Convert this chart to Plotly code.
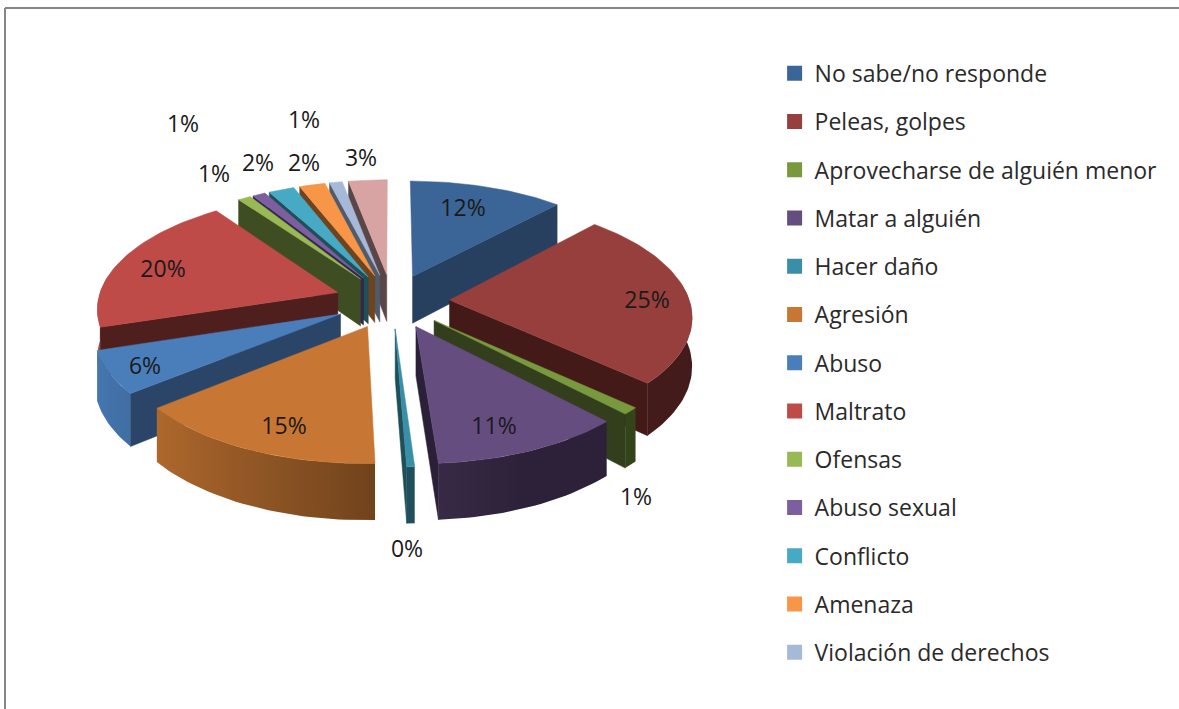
import math
import plotly.graph_objects as go

CATEGORIES = ["No sabe/no responde", "Peleas, golpes", "Aprovecharse de alguién menor",
              "Matar a alguién", "Hacer daño", "Agresión", "Abuso", "Maltrato", "Ofensas",
              "Abuso sexual", "Conflicto", "Amenaza", "Violación de derechos", "Otros"]
VALUES = [12, 25, 1, 11.15, 0.45, 14.85, 6, 20, 1, 1, 2, 2, 1, 3]
TOP_COLORS = ["#3A6596", "#973F3D", "#78993D", "#664D80", "#3A8FA8", "#C77733", "#4A7EBB",
              "#BE4B48", "#98B954", "#7D5FA0", "#46AAC5", "#F79646", "#A7B9D8", "#D8A3A3"]
WALL_COLORS = ["#274060", "#431A17", "#333F1C", "#2B2039", "#1F4F59", "#6E411D", "#2A4568",
               "#4F1F1D", "#3F4D22", "#33264A", "#1F4F59", "#6E431E", "#4F5B6A", "#5A4646"]
LEGEND_COUNT = 13
# label anchors: the reference's data labels were moved by hand around the pie
LABEL_ANCHORS = [(463, 210), (647, 302), (636, 499), (494, 428), (407, 551), (284, 428), (145, 368),
                 (163, 271), (214, 176), (183, 126), (258, 165), (304, 165), (304, 122), (361, 160)]

CX, CY, RX, RY, H, K, EXPLODE = 392, 301, 240, 113, 48, 0.125, 0.24
FONT = "Open Sans"


def project(x, y, z=0):
    s = 1 / (1 + K * y)
    return CX + RX * x * s, CY - RY * y * s + H * z * s


def rgb(hexcol, f):
    return "rgb(%d,%d,%d)" % tuple(min(255, int(int(hexcol[i:i + 2], 16) * f)) for i in (1, 3, 5))


def poly(fig, pts, color, gradient=None):
    kw = dict(fillgradient=gradient) if gradient else dict(fillcolor=color)
    fig.add_trace(go.Scatter(x=[p[0] for p in pts] + [pts[0][0]], y=[p[1] for p in pts] + [pts[0][1]],
                             mode="lines", fill="toself",
                             line=dict(color=color or "rgba(0,0,0,0)", width=0.5 if color else 0),
                             hoverinfo="skip", showlegend=False, **kw))


total = sum(VALUES)
slices, cum = [], 0
for i, v in enumerate(VALUES):
    a, b = cum / total * 2 * math.pi, (cum + v) / total * 2 * math.pi
    cum += v
    slices.append((i, a, b, (a + b) / 2))

fig = go.Figure()
for i, a, b, m in sorted(slices, key=lambda s: -math.cos(s[3])):
    ex, ey = EXPLODE * math.sin(m), EXPLODE * math.cos(m)
    n = max(2, int((b - a) / math.radians(1.5)) + 1)
    th = [a + (b - a) * j / n for j in range(n + 1)]
    apex = (ex, ey)
    # outer wall, shaded left to right by the direction it faces
    vis = [t for t in th if math.cos(t) < 0.15]
    if len(vis) >= 2:
        rim = [(ex + math.sin(t), ey + math.cos(t)) for t in vis]
        upper = [project(*p) for p in rim]
        lower = [project(*p, 1) for p in rim]
        xs = [p[0] for p in upper + lower]
        x0, x1 = min(xs), max(xs)
        stops = {}
        for t, p in zip(vis, upper):
            stops[round((p[0] - x0) / (x1 - x0), 3)] = rgb(TOP_COLORS[i], max(0.44, 0.58 - 0.38 * math.sin(t)))
        keys = sorted(stops)
        scale = [[k, stops[k]] for k in keys]
        scale[0][0], scale[-1][0] = 0, 1
        poly(fig, upper + lower[::-1], None,
             gradient=dict(type="horizontal", colorscale=scale))
    # front-facing radial walls
    for t, visible in ((a, math.sin(a) < 0), (b, math.sin(b) > 0)):
        if visible:
            end = (ex + math.sin(t), ey + math.cos(t))
            poly(fig, [project(*apex), project(*end), project(*end, 1), project(*apex, 1)], WALL_COLORS[i])
    poly(fig, [project(*apex)] + [project(ex + math.sin(t), ey + math.cos(t)) for t in th], TOP_COLORS[i])

# data labels
fig.add_trace(go.Scatter(x=[p[0] for p in LABEL_ANCHORS], y=[p[1] for p in LABEL_ANCHORS], mode="text",
                         text=[f"{v:.0f}%" for v in VALUES], textposition="middle center",
                         textfont=dict(family=FONT, size=23, color="#1a1a1a"),
                         hoverinfo="skip", showlegend=False))

# legend entries
for i in range(LEGEND_COUNT):
    fig.add_trace(go.Scatter(x=[None], y=[None], mode="markers", name=CATEGORIES[i], legendgroup=CATEGORIES[i],
                             marker=dict(symbol="square", size=15, color=TOP_COLORS[i])))

fig.update_layout(
    width=1179, height=709, margin=dict(l=0, r=0, t=0, b=0),
    paper_bgcolor="white", plot_bgcolor="white", font=dict(family=FONT),
    xaxis=dict(range=[0, 1179], visible=False, domain=[0, 1]),
    yaxis=dict(range=[709, 0], visible=False, domain=[0, 1]),
    legend=dict(x=0.657, xanchor="left", y=0.927, yanchor="top", tracegroupgap=15.35,
                font=dict(family=FONT, size=23, color="#2a2a2a"), bgcolor="rgba(0,0,0,0)"),
    shapes=[dict(type="line", xref="x", yref="y", x0=5, x1=5, y0=8, y1=709, line=dict(color="#868686", width=2)),
            dict(type="line", xref="x", yref="y", x0=5, x1=1179, y0=8, y1=8, line=dict(color="#868686", width=2))],
)
fig.write_html("out.html", config=dict(displayModeBar=False),
               post_script="document.body.style.margin='0';document.documentElement.style.overflow='hidden';")
